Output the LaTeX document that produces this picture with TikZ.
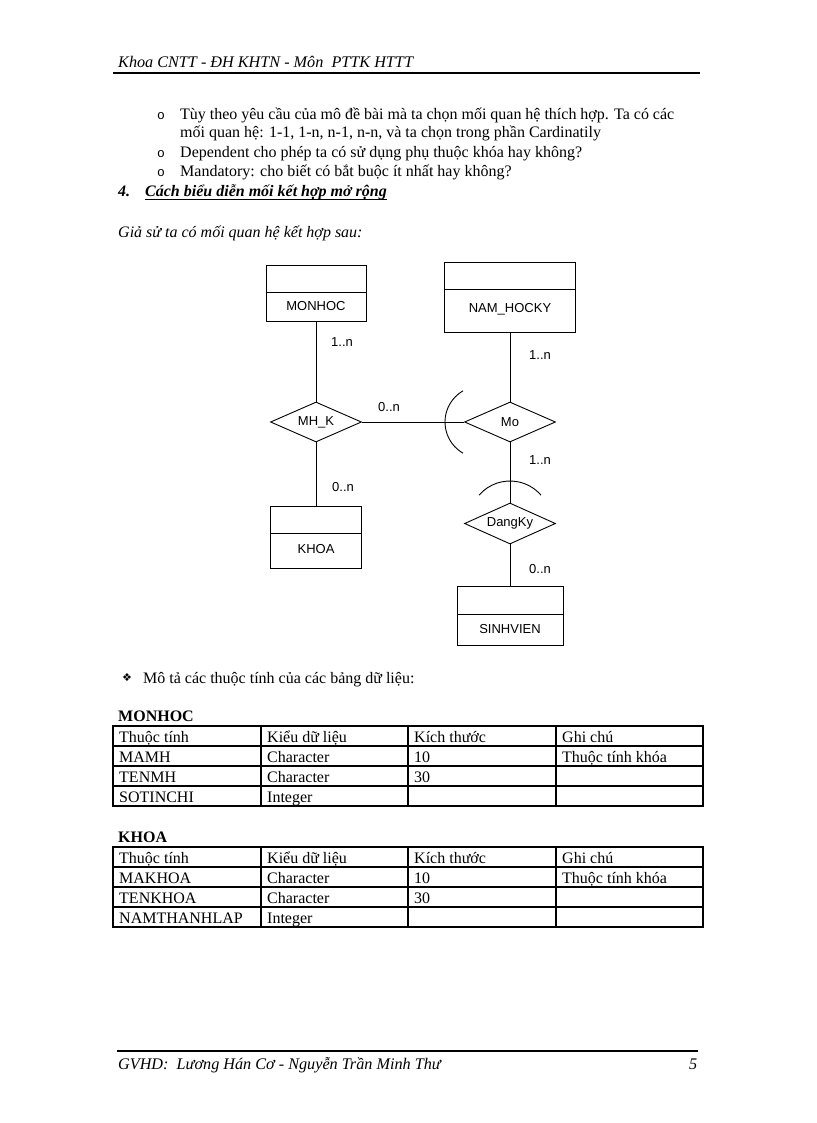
\documentclass[tikz,border=0pt]{standalone}
\usepackage{fontspec}
\setmainfont{Liberation Serif}
\newfontfamily\arialf{Liberation Sans}
\newfontfamily\monof{Liberation Mono}
\newfontfamily\dejaf{DejaVu Sans}
\usetikzlibrary{shapes.geometric}
\begin{document}
\begin{tikzpicture}[x=1pt,y=-1pt,
  txt/.style={anchor=base west, inner sep=0pt, font=\fontsize{16}{19}\selectfont},
  bul/.style={anchor=base west, inner sep=0pt, font=\monof\fontsize{13}{15}\selectfont},
  ent/.style={draw, line width=0.9pt, inner sep=0pt},
  rel/.style={draw, diamond, shape aspect=2.3, line width=0.9pt, inner sep=0pt, minimum width=91pt, minimum height=40pt, font=\arialf\fontsize{13}{15}\selectfont},
  lbl/.style={inner sep=0pt, font=\arialf\fontsize{13}{15}\selectfont},
  conn/.style={line width=0.9pt},
  grid/.style={line width=1.2pt}]
\fill[white] (0,0) rectangle (816,1123);
\useasboundingbox (0,0) rectangle (816,1123);

% header
\node[txt, font=\itshape\fontsize{16.2}{19}\selectfont] (hdr) at (118,68) {Khoa CNTT - ĐH KHTN - Môn\ \ PTTK HTTT};
\draw[line width=1.3pt] (113,73) -- (700,73);

% bullets
\node[bul] (b1) at (157,120) {o};
\node[bul] (b3) at (157,158) {o};
\node[bul] (b4) at (157,177) {o};
\node[txt] (l1) at (180,120) {\makebox[494pt][s]{Tùy theo yêu cầu của mô đề bài mà ta chọn mối quan hệ thích hợp. Ta có các}};
\node[txt] (l2) at (180,138) {mối quan hệ: 1-1, 1-n, n-1, n-n, và ta chọn trong phần Cardinatily};
\node[txt] (l3) at (180,158) {Dependent cho phép ta có sử dụng phụ thuộc khóa hay không?};
\node[txt] (l4) at (180,177) {Mandatory: cho biết có bắt buộc ít nhất hay không?};
\node[txt, font=\bfseries\itshape\fontsize{16}{19}\selectfont] (n4) at (118,197) {4.};
\node[txt, font=\bfseries\itshape\fontsize{16}{19}\selectfont] (h4) at (145,197) {Cách biểu diễn mối kết hợp mở rộng};
\draw[line width=1pt] ([yshift=-2.5pt]h4.base west) -- ([yshift=-2.5pt]h4.base east);
\node[txt, font=\itshape\fontsize{16}{19}\selectfont] (gia) at (118,237) {Giả sử ta có mối quan hệ kết hợp sau:};

% ER diagram: entities
\node[ent, minimum width=100pt, minimum height=56pt] (monhoc) at (316,293) {};
\draw[conn] (266,292) -- (366,292);
\node[lbl] (tmonhoc) at (316,306) {MONHOC};

\node[ent, minimum width=131pt, minimum height=70pt] (namhocky) at (510,297) {};
\draw[conn] (444.5,289) -- (575.5,289);
\node[lbl] (tnam) at (510,309) {NAM\_HOCKY};

\node[ent, minimum width=91pt, minimum height=62pt] (khoa) at (316,537) {};
\draw[conn] (270.5,533) -- (361.5,533);
\node[lbl] (tkhoa) at (316,549) {KHOA};

\node[ent, minimum width=106pt, minimum height=59pt] (sinhvien) at (510,615.5) {};
\draw[conn] (457,614) -- (563,614);
\node[lbl] (tsv) at (510,629) {SINHVIEN};

% relationships
\node[rel] (mhk) at (316,422) {MH\_K};
\node[rel] (mo) at (510,422) {Mo};
\node[rel, minimum height=41pt] (dangky) at (510,523.5) {DangKy};

% connectors
\draw[conn] (monhoc) -- (mhk);
\draw[conn] (namhocky) -- (mo);
\draw[conn] (mhk) -- (mo);
\draw[conn] (mhk) -- (khoa);
\draw[conn] (mo) -- (dangky);
\draw[conn] (dangky) -- (sinhvien);

% arcs
\draw[conn] (481,422) ++(120:36) arc (120:240:36);
\draw[conn] (510,522) ++(221:41) arc (221:319:41);

% multiplicities
\node[lbl] (m1) at (342,342) {1..n};
\node[lbl] (m2) at (540,355) {1..n};
\node[lbl] (m3) at (389,407) {0..n};
\node[lbl] (m4) at (540,460) {1..n};
\node[lbl] (m5) at (343,487) {0..n};
\node[lbl] (m6) at (540,569) {0..n};

% description
\node[inner sep=0pt, font=\dejaf\fontsize{11}{13}\selectfont] (star) at (127,678) {❖};
\node[txt] (mota) at (143,683) {Mô tả các thuộc tính của các bảng dữ liệu:};

% table MONHOC
\node[txt, font=\bfseries\fontsize{16}{19}\selectfont] (tmon) at (118,721) {MONHOC};
\draw[grid] (113,726) rectangle (703,806);
\foreach \yy in {746,766,786} \draw[grid] (113,\yy) -- (703,\yy);
\foreach \xx in {261,408,556} \draw[grid] (\xx,726) -- (\xx,806);
\node[txt] (a11) at (119,742) {Thuộc tính};
\node[txt] (a12) at (267,742) {Kiểu dữ liệu};
\node[txt] (a13) at (414,742) {Kích thước};
\node[txt] (a14) at (562,742) {Ghi chú};
\node[txt] (a21) at (119,762) {MAMH};
\node[txt] (a22) at (267,762) {Character};
\node[txt] (a23) at (414,762) {10};
\node[txt] (a24) at (562,762) {Thuộc tính khóa};
\node[txt] (a31) at (119,782) {TENMH};
\node[txt] (a32) at (267,782) {Character};
\node[txt] (a33) at (414,782) {30};
\node[txt] (a41) at (119,802) {SOTINCHI};
\node[txt] (a42) at (267,802) {Integer};

% table KHOA
\node[txt, font=\bfseries\fontsize{16}{19}\selectfont] (tkh) at (118,842) {KHOA};
\draw[grid] (113,847) rectangle (703,927);
\foreach \yy in {867,887,907} \draw[grid] (113,\yy) -- (703,\yy);
\foreach \xx in {261,408,556} \draw[grid] (\xx,847) -- (\xx,927);
\node[txt] (k11) at (119,863) {Thuộc tính};
\node[txt] (k12) at (267,863) {Kiểu dữ liệu};
\node[txt] (k13) at (414,863) {Kích thước};
\node[txt] (k14) at (562,863) {Ghi chú};
\node[txt] (k21) at (119,883) {MAKHOA};
\node[txt] (k22) at (267,883) {Character};
\node[txt] (k23) at (414,883) {10};
\node[txt] (k24) at (562,883) {Thuộc tính khóa};
\node[txt] (k31) at (119,903) {TENKHOA};
\node[txt] (k32) at (267,903) {Character};
\node[txt] (k33) at (414,903) {30};
\node[txt] (k41) at (119,923) {NAMTHANHLAP};
\node[txt] (k42) at (267,923) {Integer};

% footer
\draw[line width=1.2pt] (117,1051) -- (698,1051);
\node[txt, font=\itshape\fontsize{16.2}{19}\selectfont] (ftr) at (118,1069) {GVHD:\ \ Lương Hán Cơ - Nguyễn Trần Minh Thư};
\node[txt, font=\itshape\fontsize{16.2}{19}\selectfont] (pg) at (689,1069) {5};
\end{tikzpicture}
\end{document}
